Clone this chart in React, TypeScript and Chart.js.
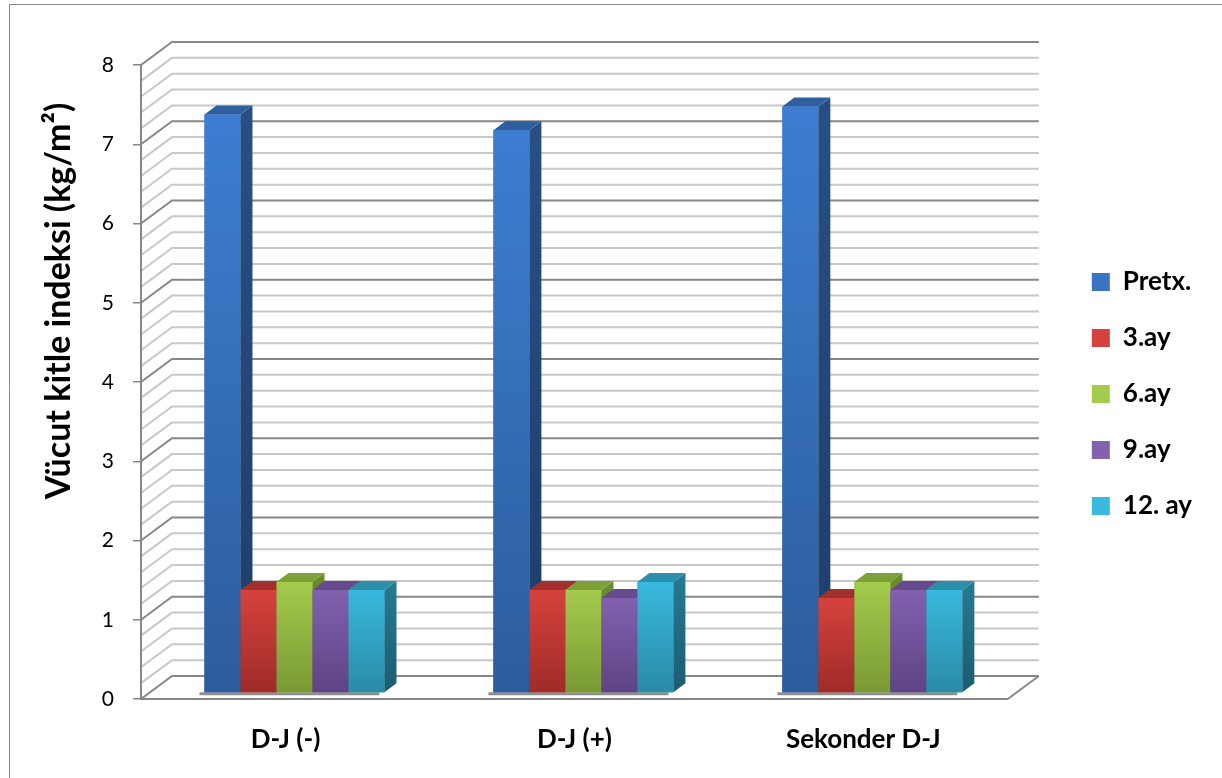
import React, { useEffect, useRef } from 'react';
import { Chart, registerables } from 'chart.js';

Chart.register(...registerables);

// ---- data ----
const categories = ['D-J (-)', 'D-J (+)', 'Sekonder D-J'];
const seriesNames = ['Pretx.', '3.ay', '6.ay', '9.ay', '12. ay'];
const pretx = [7.3, 7.1, 7.4];
const ay3 = [1.3, 1.3, 1.2];
const ay6 = [1.4, 1.3, 1.4];
const ay9 = [1.3, 1.2, 1.3];
const ay12 = [1.3, 1.4, 1.3];
const seriesValues = [pretx, ay3, ay6, ay9, ay12];
const yMin = 0;
const yMax = 8;
const yStep = 1;
const yMinorStep = 0.2;
const yTitle = 'Vücut kitle indeksi (kg/m²)';

// ---- styles ----
const palette = [
  { legend: '#3a72bd', front: ['#3d7ed2', '#2c5c9b'], side: ['#284f84', '#1e3d68'], top: '#2f5f9f' },
  { legend: '#c23a36', front: ['#d5423e', '#9f2b28'], side: ['#8a2623', '#6c1c1a'], top: '#a3302d' },
  { legend: '#93b944', front: ['#a3cb4c', '#7a9934'], side: ['#6b8a2c', '#536b22'], top: '#7f9f38' },
  { legend: '#7255a0', front: ['#8261af', '#5d4384'], side: ['#5b4283', '#453264'], top: '#664a8e' },
  { legend: '#32a9cc', front: ['#38b9dd', '#2a8aa6'], side: ['#257891', '#1b5c70'], top: '#2b8eab' },
];
const FONT = 'Lato, "Open Sans", "DejaVu Sans", sans-serif';
const WALL_DX = 31;
const WALL_DY = -23;
const BAR_DX = 9;
const BAR_DY = -6;
const DEPTH_DX = 12;
const DEPTH_DY = -9;

function vGrad(ctx: CanvasRenderingContext2D, y0: number, y1: number, c0: string, c1: string) {
  const g = ctx.createLinearGradient(0, y0, 0, y1);
  g.addColorStop(0, c0);
  g.addColorStop(1, c1);
  return g;
}

const threeD = {
  id: 'threeD',
  beforeDraw(chart: any) {
    const { ctx, chartArea } = chart;
    const y = chart.scales.y;
    ctx.save();
    // outer frame (left & top)
    ctx.strokeStyle = '#8a8a8a';
    ctx.lineWidth = 1;
    ctx.beginPath();
    ctx.moveTo(9.5, 778);
    ctx.lineTo(9.5, 4.5);
    ctx.lineTo(1222, 4.5);
    ctx.stroke();
    // side wall + back wall gridlines
    const n = Math.round((yMax - yMin) / yMinorStep);
    for (let k = n; k >= 0; k--) {
      const v = yMin + k * yMinorStep;
      const major = Math.abs(v / yStep - Math.round(v / yStep)) < 1e-6;
      const py = y.getPixelForValue(v);
      ctx.strokeStyle = major ? '#878787' : '#c8c8c8';
      ctx.lineWidth = 2;
      ctx.beginPath();
      ctx.moveTo(chartArea.left, py);
      ctx.lineTo(chartArea.left + WALL_DX, py + WALL_DY);
      ctx.lineTo(chartArea.right + WALL_DX, py + WALL_DY);
      ctx.stroke();
    }
    // floor right edge
    const pb = y.getPixelForValue(yMin);
    ctx.strokeStyle = '#878787';
    ctx.beginPath();
    ctx.moveTo(chartArea.right, pb);
    ctx.lineTo(chartArea.right + WALL_DX, pb + WALL_DY);
    ctx.stroke();
    ctx.restore();
  },
  beforeDatasetsDraw(chart: any) {
    const { ctx } = chart;
    ctx.save();
    ctx.translate(BAR_DX, BAR_DY);
    // floor shadow under bar groups
    const metas = chart.getSortedVisibleDatasetMetas();
    ctx.fillStyle = '#8e8e8e';
    for (let j = 0; j < categories.length; j++) {
      let l = Infinity, r = -Infinity, b = 0;
      metas.forEach((m: any) => {
        const el = m.data[j];
        l = Math.min(l, el.x - el.width / 2);
        r = Math.max(r, el.x + el.width / 2);
        b = el.base;
      });
      ctx.fillRect(l - 5, b, r - l, 3);
    }
  },
  afterDatasetsDraw(chart: any) {
    const { ctx } = chart;
    for (let j = 0; j < categories.length; j++) {
      for (let i = 0; i < seriesValues.length; i++) {
        const meta = chart.getDatasetMeta(i);
        const el = meta.data[j];
        if (!el) continue;
        el.draw(ctx);
        const p = palette[i];
        const left = el.x - el.width / 2;
        const right = el.x + el.width / 2;
        const top = el.y;
        const base = el.base;
        // side face
        ctx.fillStyle = vGrad(ctx, top, base, p.side[0], p.side[1]);
        ctx.beginPath();
        ctx.moveTo(right, top);
        ctx.lineTo(right + DEPTH_DX, top + DEPTH_DY);
        ctx.lineTo(right + DEPTH_DX, base + DEPTH_DY);
        ctx.lineTo(right, base);
        ctx.closePath();
        ctx.fill();
        // top face
        ctx.fillStyle = p.top;
        ctx.beginPath();
        ctx.moveTo(left, top);
        ctx.lineTo(left + DEPTH_DX, top + DEPTH_DY);
        ctx.lineTo(right + DEPTH_DX, top + DEPTH_DY);
        ctx.lineTo(right, top);
        ctx.closePath();
        ctx.fill();
      }
    }
    ctx.restore();
  },
  afterDraw(chart: any) {
    const { ctx } = chart;
    ctx.save();
    ctx.translate(70, 301);
    ctx.rotate(-Math.PI / 2);
    ctx.font = `bold 34px ${FONT}`;
    ctx.fillStyle = '#000';
    ctx.textAlign = 'center';
    ctx.textBaseline = 'alphabetic';
    ctx.fillText(yTitle, 0, 0);
    ctx.restore();
  },
};

export default function App() {
  const ref = useRef<HTMLCanvasElement | null>(null);
  useEffect(() => {
    if (!ref.current) return;
    const datasets = seriesNames.map((name, i) => ({
      label: name,
      data: seriesValues[i],
      xAxisID: 'x',
      yAxisID: 'y',
      backgroundColor: (c: any) => {
        const p = palette[i];
        if (c.type !== 'data' || !c.chart.chartArea) return p.legend;
        const ys = c.chart.scales.y;
        const y0 = ys.getPixelForValue(c.raw);
        const y1 = ys.getPixelForValue(yMin);
        return vGrad(c.chart.ctx, y0, y1, p.front[0], p.front[1]);
      },
      borderWidth: 0,
      categoryPercentage: 0.623,
      barPercentage: 1,
      clip: false as any,
    }));
    const chart = new Chart(ref.current, {
      type: 'bar',
      data: { labels: categories, datasets },
      plugins: [threeD],
      options: {
        animation: false,
        responsive: false,
        devicePixelRatio: 1,
        layout: { padding: { top: 20, bottom: 10, left: 0, right: 20 } },
        plugins: {
          legend: {
            position: 'right',
            labels: {
              font: { family: FONT, size: 26, weight: 'bold' },
              color: '#000',
              boxWidth: 18,
              boxHeight: 18,
              padding: 30,
            },
          },
          tooltip: { enabled: false },
          title: { display: false },
        },
        scales: {
          x: {
            grid: { display: false, drawTicks: false },
            border: { display: true, color: '#878787', width: 2 },
            ticks: { font: { family: FONT, size: 26, weight: 'bold' }, color: '#000', padding: 25 },
            afterFit: (s: any) => { s.height = 69; },
          },
          xSpacer: {
            type: 'linear',
            axis: 'x',
            position: 'top',
            display: true,
            grid: { display: false },
            border: { display: false },
            ticks: { display: false },
            afterFit: (s: any) => { s.height = 45; },
          },
          y: {
            min: yMin,
            max: yMax,
            ticks: { stepSize: yStep, font: { family: FONT, size: 21 }, color: '#000', padding: 19 },
            grid: { display: true, drawOnChartArea: false, drawTicks: true, tickLength: 8, color: '#878787', lineWidth: 1.5 },
            border: { display: true, color: '#878787', width: 2 },
            afterFit: (s: any) => { s.width = 141; },
          },
          ySpacer: {
            type: 'linear',
            axis: 'y',
            position: 'right',
            display: true,
            grid: { display: false },
            border: { display: false },
            ticks: { display: false },
            afterFit: (s: any) => { s.width = 54; },
          },
        },
      } as any,
    });
    return () => chart.destroy();
  }, []);
  return (
    <div style={{ position: 'fixed', left: 0, top: 0, width: 1222, height: 778, background: '#fff' }}>
      <canvas ref={ref} width={1222} height={778} />
    </div>
  );
}
